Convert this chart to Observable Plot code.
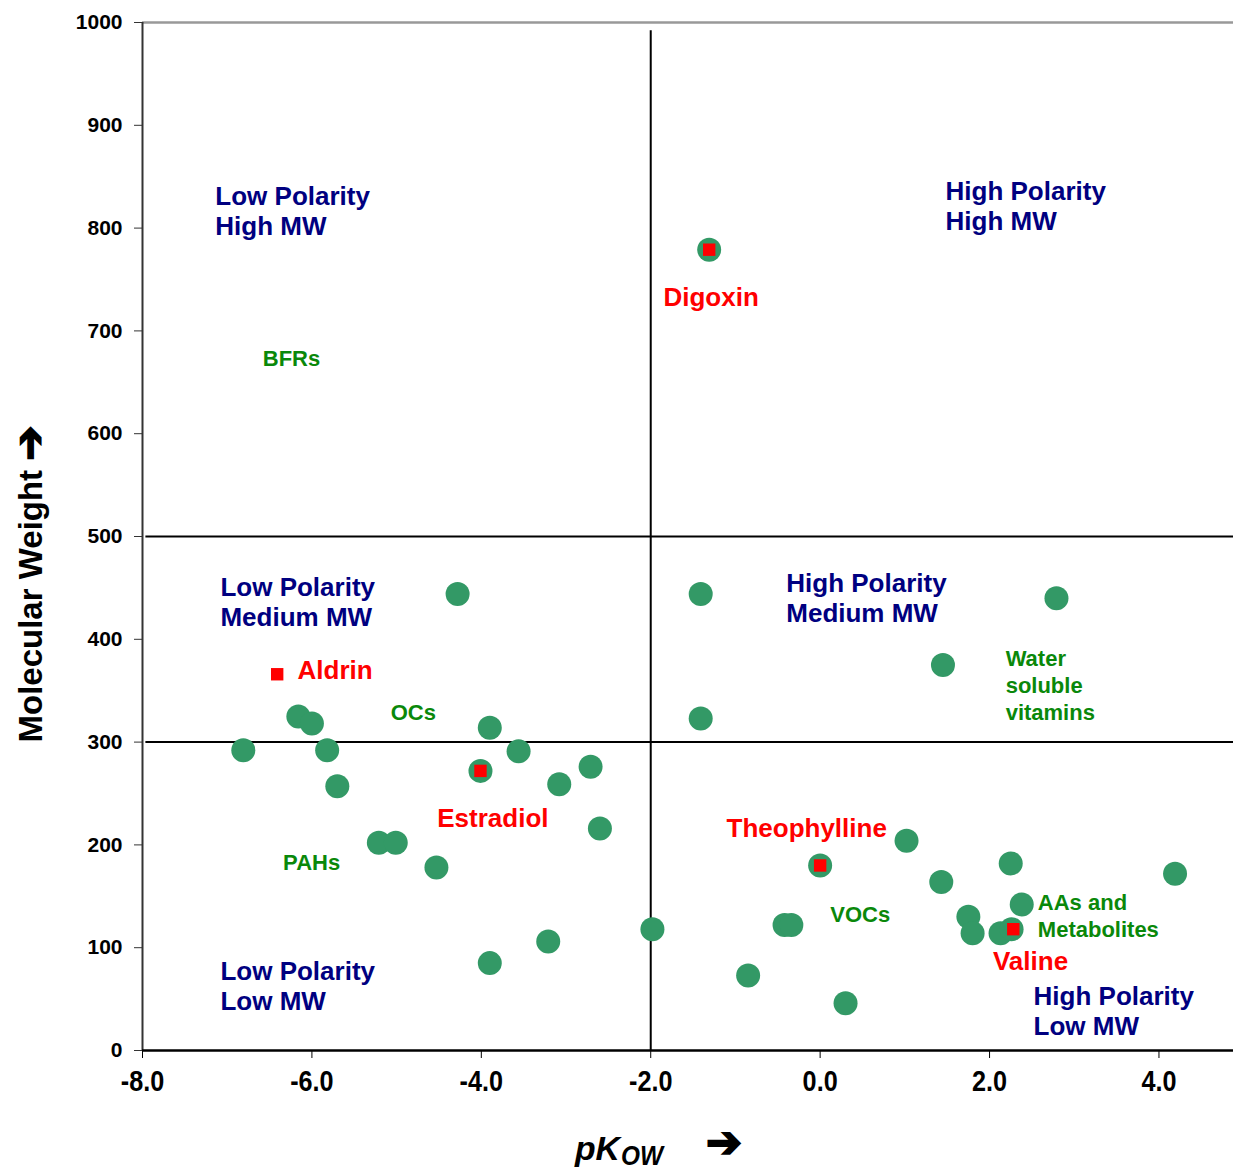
<!DOCTYPE html>
<html><head><meta charset="utf-8">
<script src="https://cdn.jsdelivr.net/npm/d3@7"></script>
<script src="https://cdn.jsdelivr.net/npm/@observablehq/plot@0.6"></script>
<style>body{margin:0;background:#fff} svg{display:block}</style>
</head><body><div id="chart"></div>
<script>
// Compounds (green circles): pKow and molecular weight
const pKow = [-1.31,-4.28,-1.41,2.79,1.45,-1.41,-6.16,-6.00,-6.81,-5.82,-3.90,-3.56,-5.70,-4.01,-3.08,-2.71,-2.60,-5.21,-5.01,-4.53,-1.98,-3.21,-3.90,-0.85,0.30,0.00,1.02,1.43,2.25,4.19,2.38,-0.42,-0.34,1.75,1.80,2.13,2.26];
const molWeight = [779,444,444,440,375,323,325,318,292,292,314,291,257,272,259,276,216,202,202,178,118,106,85,73,46,180,204,164,182,172,142,122,122,130,114,114,118];

// Highlighted compounds (red squares)
const markerNames = ["Digoxin","Aldrin","Estradiol","Theophylline","Valine"];
const markerX = [-1.31,-6.41,-4.01,0.00,2.28];
const markerY = [779,366,272,180,118];
const markerLabelX = [-1.85,-6.17,-4.52,-1.105,2.04];
const markerLabelY = [732,369,226,216,86];

// Compound classes (green text)
const classNames = ["BFRs","OCs","PAHs","VOCs","Water\nsoluble\nvitamins","AAs and\nMetabolites"];
const classX = [-6.58,-5.07,-6.34,0.12,2.19,2.57];
const classY = [674,330,184,133,356,132];

// Region names (navy text)
const regionNames = ["Low Polarity\nHigh MW","High Polarity\nHigh MW","Low Polarity\nMedium MW","High Polarity\nMedium MW","Low Polarity\nLow MW","High Polarity\nLow MW"];
const regionX = [-7.14,1.48,-7.08,-0.40,-7.08,2.52];
const regionY = [817,822,436.5,440.5,63,39];

// Dividers and ticks
const mwDividers = [500,300];
const pkDivider = [-2];
const xTicks = [-8,-6,-4,-2,0,2,4];
const yTicks = [0,100,200,300,400,500,600,700,800,900,1000];

const points = pKow.map((x,i)=>({x, y: molWeight[i]}));
const markers = markerNames.map((n,i)=>({name:n, x:markerX[i], y:markerY[i], lx:markerLabelX[i], ly:markerLabelY[i]}));
const classes = classNames.map((n,i)=>({name:n, x:classX[i], y:classY[i]}));
const regions = regionNames.map((n,i)=>({name:n, x:regionX[i], y:regionY[i]}));

const FONT = "'Liberation Sans', Arial, sans-serif";

const plot = Plot.plot({
  width: 1233, height: 1173,
  marginLeft: 142, marginRight: 0, marginTop: 22, marginBottom: 123,
  style: {fontFamily: FONT, background: "#fff", color: "#000"},
  x: {domain: [-8, 4.88]},
  y: {domain: [0, 1000]},
  marks: [
    Plot.ruleY([1000], {stroke: "#999", strokeWidth: 2.5}),
    Plot.ruleY(mwDividers, {x1: -7.96, x2: 4.88, stroke: "#000", strokeWidth: 2}),
    Plot.ruleX(pkDivider, {y1: 0, y2: 992, stroke: "#000", strokeWidth: 2}),
    Plot.ruleX([-8], {y1: 0, y2: 1000, stroke: "#333", strokeWidth: 2}),
    Plot.ruleY([0], {stroke: "#000", strokeWidth: 2.5}),
    Plot.axisY(yTicks, {tickSize: 8, tickPadding: 12, fontSize: 21, fontWeight: "bold", label: null, stroke: "#333", tickFormat: d => String(d)}),
    Plot.axisX(xTicks, {tickSize: 8, tickPadding: 11, fontSize: 30, fontWeight: "bold", label: null, tickFormat: d => d.toFixed(1)}),
    Plot.dot(points, {x: "x", y: "y", r: 12, fill: "#339966", stroke: null}),
    Plot.dot(markers, {x: "x", y: "y", symbol: "square", r: 7, fill: "#ff0000", stroke: null}),
    Plot.text(markers, {x: "lx", y: "ly", text: "name", textAnchor: "start", fill: "#ff0000", fontSize: 26, fontWeight: "bold"}),
    Plot.text(classes, {x: "x", y: "y", text: "name", textAnchor: "start", fill: "#0a880a", fontSize: 22, fontWeight: "bold", lineHeight: 1.23}),
    Plot.text(regions, {x: "x", y: "y", text: "name", textAnchor: "start", fill: "#000080", fontSize: 26, fontWeight: "bold", lineHeight: 1.15})
  ]
});

const svg = d3.select(plot);
const yt = svg.append("text")
  .attr("transform", "translate(42,584) rotate(-90)")
  .attr("text-anchor", "middle")
  .attr("fill", "#000")
  .style("font-family", FONT).style("font-weight", "bold").style("font-size", "33px");
yt.append("tspan").text("Molecular Weight ");
yt.append("tspan").attr("dy", 2).attr("stroke", "#000").attr("stroke-width", 1.8)
  .style("font-family", "'DejaVu Sans', sans-serif").style("font-size", "42px").text("\u2794");

const pk = svg.append("text")
  .attr("x", 575).attr("y", 1160).attr("fill", "#000").attr("text-anchor", "start")
  .style("font-family", FONT).style("font-weight", "bold").style("font-style", "italic").style("font-size", "33px")
  .text("pK");
const ow = svg.append("text")
  .attr("x", 621).attr("y", 1165).attr("fill", "#000").attr("text-anchor", "start")
  .style("font-family", FONT).style("font-weight", "bold").style("font-style", "italic").style("font-size", "27px")
  .text("OW");
const arrow = svg.append("text")
  .attr("x", 706).attr("y", 1157).attr("fill", "#000").attr("text-anchor", "start")
  .attr("stroke", "#000").attr("stroke-width", 2)
  .style("font-family", "'DejaVu Sans', sans-serif").style("font-weight", "bold").style("font-size", "44px")
  .text("\u2794");

document.getElementById("chart").appendChild(plot);

// Condense x-axis tick labels and x title to mimic a narrow typeface
svg.selectAll('g[aria-label="x-axis tick label"] text').each(function() {
  const len = this.getComputedTextLength();
  d3.select(this).attr("textLength", len * 0.84).attr("lengthAdjust", "spacingAndGlyphs");
});
pk.attr("textLength", 45).attr("lengthAdjust", "spacingAndGlyphs");
ow.attr("textLength", 42).attr("lengthAdjust", "spacingAndGlyphs");
arrow.attr("textLength", 36).attr("lengthAdjust", "spacingAndGlyphs");
</script>
</body></html>
